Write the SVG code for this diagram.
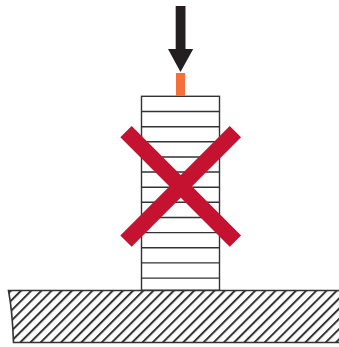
<svg xmlns="http://www.w3.org/2000/svg" width="339" height="347" viewBox="0 0 339 347">
<defs>
<pattern id="hatch" width="7.2" height="7.2" patternUnits="userSpaceOnUse" patternTransform="rotate(45 0 290)">
<rect width="2" height="7.2" fill="#333"/>
</pattern>
</defs>
<style>
.l{stroke:#333;stroke-width:1.4;fill:none}
.x{stroke:#c41230;stroke-width:16;fill:none}
</style>
<rect width="339" height="347" fill="#fff"/>
<g id="ground">
<path d="M8.5 290.5Q12.5 312 13.5 342.5H339V290.5Z" fill="url(#hatch)"/>
<path class="l" d="M339 290.5H8.5Q12.5 312 13.5 342.5H339" style="stroke-width:1.6"/>
</g>
<g id="stack">
<rect class="l" x="141.5" y="96.3" width="78" height="194"/>
<path class="l" d="M141.5 111.5H219.5M141.5 126.7H219.5M141.5 141.8H219.5M141.5 157H219.5M141.5 172H219.5M141.5 187.2H219.5M141.5 202.3H219.5M141.5 217.5H219.5M141.5 232.6H219.5M141.5 247.8H219.5M141.5 262.9H219.5M141.5 278.1H219.5"/>
</g>
<g id="cross">
<path class="x" d="M126 131.7L235.4 241.1M235.4 131.7L126 241.1"/>
</g>
<g id="load">
<rect x="176" y="73" width="9" height="23" fill="#f36f3b"/>
<path d="M175.7 6H185.5V49H193.2L180.5 72L168 49H175.7Z" fill="#231f20"/>
</g>
</svg>
